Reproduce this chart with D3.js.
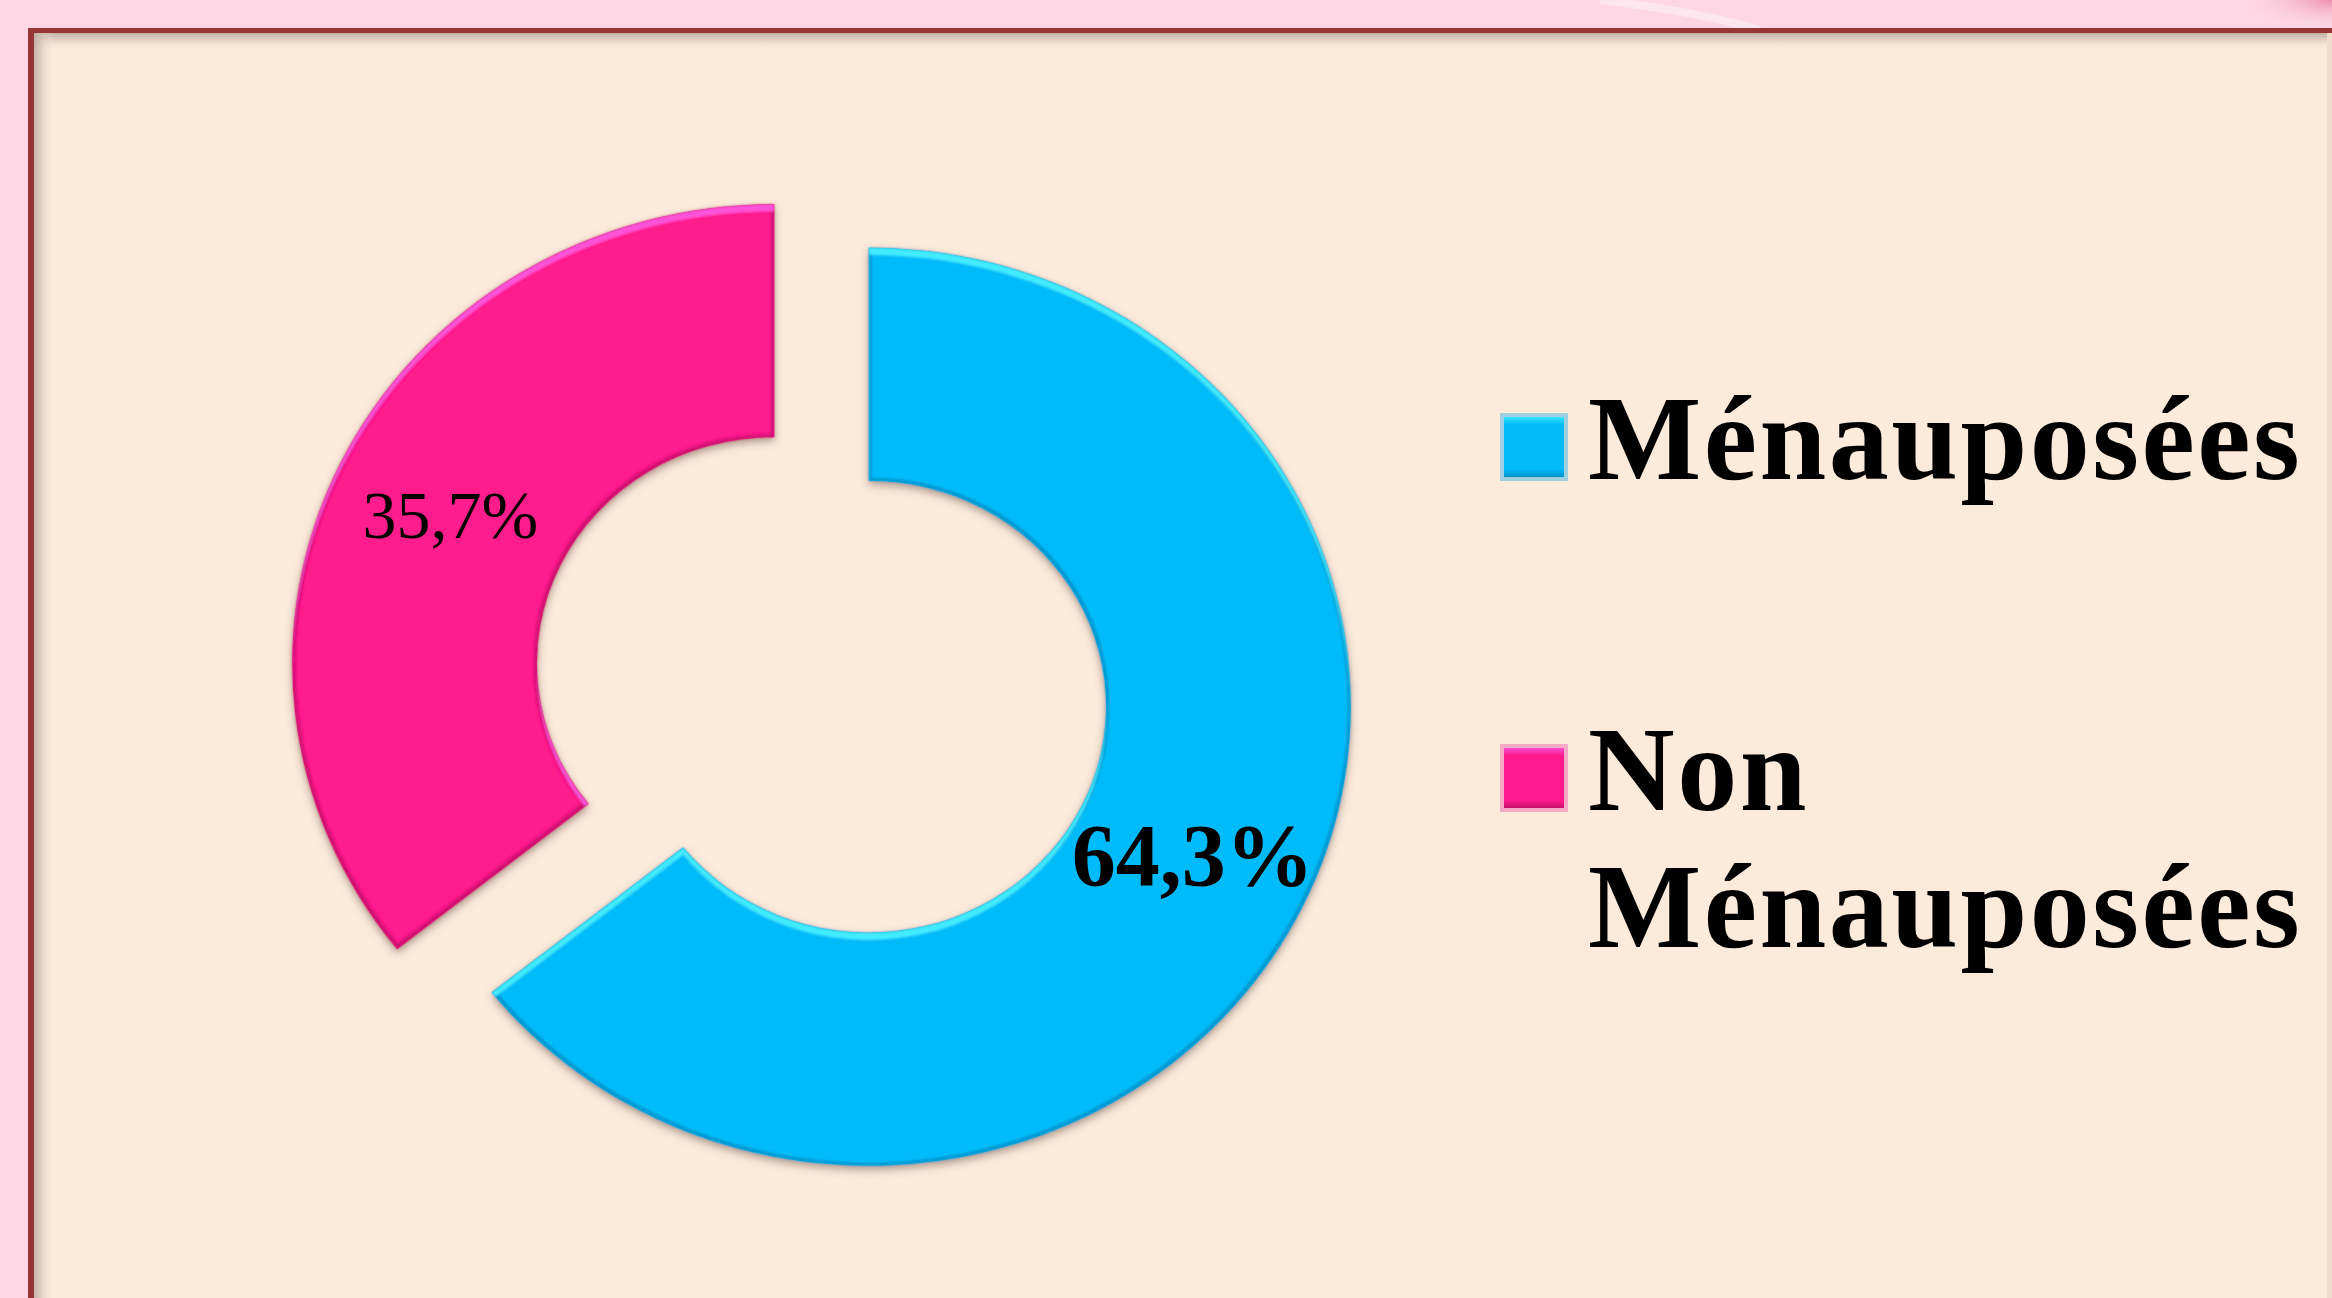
<!DOCTYPE html>
<html>
<head>
<meta charset="utf-8">
<script src="https://cdn.jsdelivr.net/npm/d3@7"></script>
<style>
  html, body { margin: 0; padding: 0; background: #FDD7E3; }
  svg { display: block; }
</style>
</head>
<body>
<svg id="chart" width="2332" height="1298"></svg>
<script>
// ---- data ----
const categories = ["Ménauposées", "Non Ménauposées"];
const values = [64.3, 35.7];
const valueLabels = ["64,3%", "35,7%"];
const sliceColors = ["#04BBF9", "#FF1B8D"];
const highlightColors = ["#45F2FF", "#FF58E0"];
const edgeColors = ["#0088BE", "#B80F62"];
const labelWeights = ["bold", "normal"];
const labelSizes = [88, 68];

// ---- layout ----
const W = 2332, H = 1298;
const svg = d3.select("#chart");
const defs = svg.append("defs");

// background
svg.append("rect").attr("width", W).attr("height", H).attr("fill", "#FDD7E3");
// faint decorative streaks in outer pink area
svg.append("path").attr("d", "M1600,0 Q1700,12 1760,30").attr("stroke", "#fff0f5").attr("stroke-width", 8).attr("fill", "none").attr("opacity", 0.6);
const cornerGrad = defs.append("radialGradient").attr("id", "corner").attr("cx", 1).attr("cy", 0).attr("r", 1);
cornerGrad.append("stop").attr("offset", 0).attr("stop-color", "#EE8FB0");
cornerGrad.append("stop").attr("offset", 1).attr("stop-color", "#FDD7E3").attr("stop-opacity", 0);
svg.append("rect").attr("x", 2240).attr("y", 0).attr("width", 92).attr("height", 30).attr("fill", "url(#corner)");

// chart area
const ax = 28, ay = 28;
svg.append("rect").attr("x", ax).attr("y", ay).attr("width", W - ax).attr("height", H - ay).attr("fill", "#FCEADB");
// inner shadows
const gTop = defs.append("linearGradient").attr("id", "shTop").attr("x1", 0).attr("y1", 0).attr("x2", 0).attr("y2", 1);
gTop.append("stop").attr("offset", 0).attr("stop-color", "#B9A99E").attr("stop-opacity", 0.9);
gTop.append("stop").attr("offset", 0.35).attr("stop-color", "#CDBBAE").attr("stop-opacity", 0.6);
gTop.append("stop").attr("offset", 1).attr("stop-color", "#FCEADB").attr("stop-opacity", 0);
const gLeft = defs.append("linearGradient").attr("id", "shLeft").attr("x1", 0).attr("y1", 0).attr("x2", 1).attr("y2", 0);
gLeft.append("stop").attr("offset", 0).attr("stop-color", "#B9A99E").attr("stop-opacity", 0.9);
gLeft.append("stop").attr("offset", 0.35).attr("stop-color", "#CDBBAE").attr("stop-opacity", 0.6);
gLeft.append("stop").attr("offset", 1).attr("stop-color", "#FCEADB").attr("stop-opacity", 0);
svg.append("rect").attr("x", ax + 5).attr("y", ay + 5).attr("width", W - ax).attr("height", 18).attr("fill", "url(#shTop)");
svg.append("rect").attr("x", ax + 5).attr("y", ay + 5).attr("width", 22).attr("height", H).attr("fill", "url(#shLeft)");
svg.append("rect").attr("x", W - 5).attr("y", ay + 5).attr("width", 5).attr("height", H).attr("fill", "#F0DCCB");
// border (top + left)
svg.append("rect").attr("x", ax).attr("y", ay).attr("width", W - ax).attr("height", 5).attr("fill", "#983636");
svg.append("rect").attr("x", ax).attr("y", ay).attr("width", 6).attr("height", H - ay).attr("fill", "#983636");

// ---- donut ----
const cx = 821.5, cy = 685, sx = 1.05;
const outerR = 459, innerR = 226, explode = 50;

const pie = d3.pie().sort(null).value(d => d)(values);
const arc = d3.arc().innerRadius(innerR).outerRadius(outerR);

// filters per slice
pie.forEach((p, i) => {
  const f = defs.append("filter").attr("id", "bevel" + i)
    .attr("x", -0.1).attr("y", -0.1).attr("width", 1.2).attr("height", 1.2);
  f.append("feGaussianBlur").attr("in", "SourceAlpha").attr("stdDeviation", 4).attr("result", "sblur");
  f.append("feOffset").attr("in", "sblur").attr("dx", 0).attr("dy", 4).attr("result", "soff");
  f.append("feFlood").attr("flood-color", "#6E5A4E").attr("flood-opacity", 0.55).attr("result", "scol");
  f.append("feComposite").attr("in", "scol").attr("in2", "soff").attr("operator", "in").attr("result", "shadow");
  // edge ring
  f.append("feMorphology").attr("in", "SourceAlpha").attr("operator", "erode").attr("radius", 3).attr("result", "er");
  f.append("feComposite").attr("in", "SourceAlpha").attr("in2", "er").attr("operator", "out").attr("result", "ring");
  f.append("feGaussianBlur").attr("in", "ring").attr("stdDeviation", 0.8).attr("result", "ringb");
  f.append("feFlood").attr("flood-color", edgeColors[i]).attr("flood-opacity", 0.75).attr("result", "ecol");
  f.append("feComposite").attr("in", "ecol").attr("in2", "ringb").attr("operator", "in").attr("result", "edge");
  // top highlight
  f.append("feOffset").attr("in", "SourceAlpha").attr("dx", 0).attr("dy", 7).attr("result", "down");
  f.append("feComposite").attr("in", "SourceAlpha").attr("in2", "down").attr("operator", "out").attr("result", "topband");
  f.append("feGaussianBlur").attr("in", "topband").attr("stdDeviation", 1.2).attr("result", "topb");
  f.append("feComposite").attr("in", "topb").attr("in2", "SourceAlpha").attr("operator", "in").attr("result", "topc");
  f.append("feFlood").attr("flood-color", highlightColors[i]).attr("flood-opacity", 0.9).attr("result", "hcol");
  f.append("feComposite").attr("in", "hcol").attr("in2", "topc").attr("operator", "in").attr("result", "hl");
  const m = f.append("feMerge");
  m.append("feMergeNode").attr("in", "shadow");
  m.append("feMergeNode").attr("in", "SourceGraphic");
  m.append("feMergeNode").attr("in", "edge");
  m.append("feMergeNode").attr("in", "hl");
});

function offsetOf(p) {
  const mid = (p.startAngle + p.endAngle) / 2;
  return [Math.sin(mid) * explode, -Math.cos(mid) * explode];
}

const donut = svg.append("g").attr("transform", `translate(${cx},${cy}) scale(${sx},1)`);
donut.selectAll("path.slice").data(pie).join("path")
  .attr("class", "slice")
  .attr("d", arc)
  .attr("fill", (d, i) => sliceColors[i])
  .attr("transform", d => { const o = offsetOf(d); return `translate(${o[0]},${o[1]})`; })
  .attr("filter", (d, i) => `url(#bevel${i})`);

// value labels at centroids
svg.selectAll("text.vlabel").data(pie).join("text")
  .attr("class", "vlabel")
  .attr("x", d => { const o = offsetOf(d); const c = arc.centroid(d); return cx + sx * (c[0] + o[0]); })
  .attr("y", d => { const o = offsetOf(d); const c = arc.centroid(d); return cy + c[1] + o[1]; })
  .attr("text-anchor", "middle")
  .attr("dominant-baseline", "central")
  .attr("font-family", "'Liberation Serif', 'Times New Roman', serif")
  .attr("font-weight", (d, i) => labelWeights[i])
  .attr("font-size", (d, i) => labelSizes[i])
  .attr("fill", "#000")
  .text((d, i) => valueLabels[i]);

// ---- legend ----
const legX = 1502, markerSize = 64, textX = 1588;
const legBaselines = [479, 810];
const lineGap = 137;
categories.forEach((c, i) => {
  const g = defs.append("linearGradient").attr("id", "mk" + i).attr("x1", 0).attr("y1", 0).attr("x2", 0).attr("y2", 1);
  g.append("stop").attr("offset", 0).attr("stop-color", highlightColors[i]);
  g.append("stop").attr("offset", 0.15).attr("stop-color", sliceColors[i]);
  g.append("stop").attr("offset", 0.85).attr("stop-color", sliceColors[i]);
  g.append("stop").attr("offset", 1).attr("stop-color", edgeColors[i]);
  svg.append("rect")
    .attr("x", legX).attr("y", legBaselines[i] - markerSize)
    .attr("width", markerSize).attr("height", markerSize)
    .attr("fill", "url(#mk" + i + ")")
    .attr("stroke", i === 0 ? "#9FD0DF" : "#F4A9C6").attr("stroke-width", 4);
  const t = svg.append("text")
    .attr("x", textX).attr("y", legBaselines[i])
    .attr("font-family", "'Liberation Serif', 'Times New Roman', serif")
    .attr("font-weight", "bold")
    .attr("font-size", 120)
    .attr("letter-spacing", 2.5)
    .attr("fill", "#000");
  c.split(" ").forEach((w, j) => {
    t.append("tspan").attr("x", textX).attr("y", legBaselines[i] + j * lineGap).text(w);
  });
});
</script>
</body>
</html>
